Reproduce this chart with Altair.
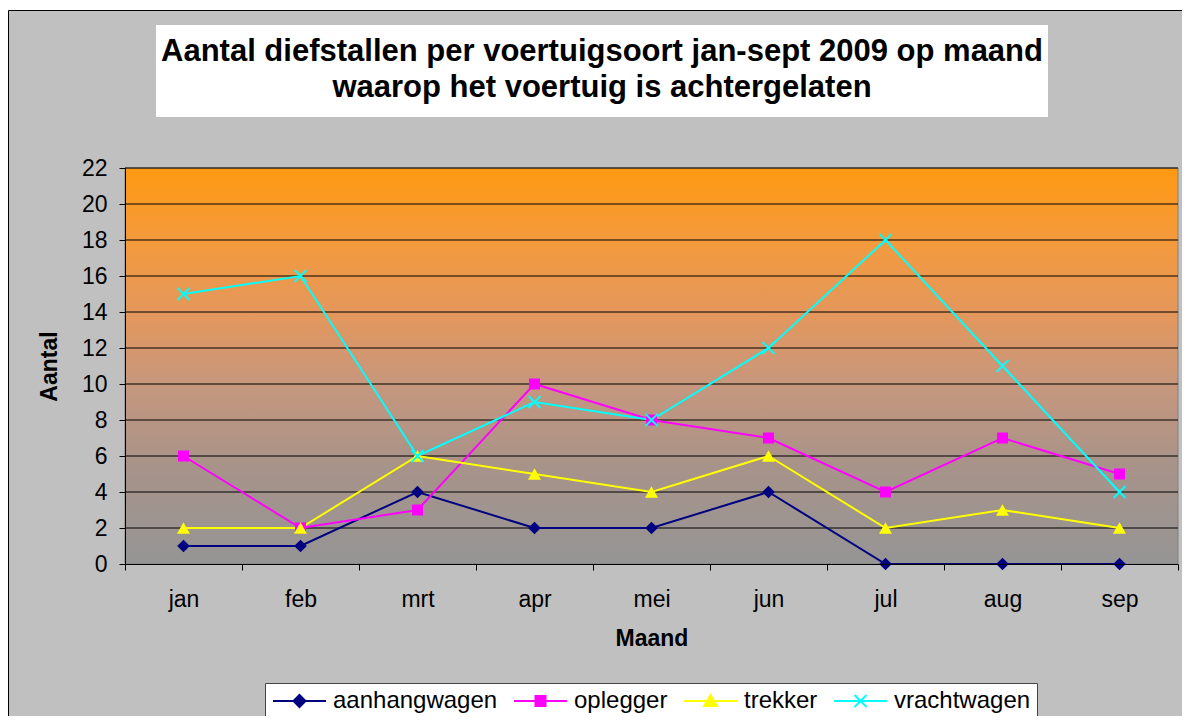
import altair as alt
import pandas as pd

months = ["jan", "feb", "mrt", "apr", "mei", "jun", "jul", "aug", "sep"]
series = ["aanhangwagen", "oplegger", "trekker", "vrachtwagen"]
aanhangwagen = [1, 1, 4, 2, 2, 4, 0, 0, 0]
oplegger = [6, 2, 3, 10, 8, 7, 4, 7, 5]
trekker = [2, 2, 6, 5, 4, 6, 2, 3, 2]
vrachtwagen = [15, 16, 6, 9, 8, 12, 18, 11, 4]
colors = ["#000080", "#ff00ff", "#ffff00", "#00ffff"]
y_ticks = list(range(0, 23, 2))

title_lines = ["Aantal diefstallen per voertuigsoort jan-sept 2009 op maand",
               "waarop het voertuig is achtergelaten"]

rows = []
for name, vals in zip(series, [aanhangwagen, oplegger, trekker, vrachtwagen]):
    for m, v in zip(months, vals):
        rows.append({"maand": m, "serie": name, "aantal": v})
df = pd.DataFrame(rows)
grid_df = pd.DataFrame({"aantal": y_ticks[1:]})

W, H = 1053, 396
FONT = "Liberation Sans"

x_axis = alt.Axis(title="Maand", tickBand="extent", labelAngle=0,
                  labelFontSize=23, labelPadding=18, labelColor="black",
                  titleFontSize=23, titleFontWeight="bold", titlePadding=16,
                  titleColor="black", tickSize=6, tickColor="black",
                  domainColor="black", grid=False, labelFont=FONT,
                  titleFont=FONT, zindex=1)
y_axis = alt.Axis(title="Aantal", values=y_ticks, labelFontSize=23,
                  labelPadding=12, labelColor="black", titleFontSize=23,
                  titleFontWeight="bold", titlePadding=20, titleColor="black",
                  tickSize=6, tickColor="black", domainColor="black",
                  labelOverlap=False, labelFlush=False,
                  grid=False, labelFont=FONT, titleFont=FONT, zindex=1)
y_scale = alt.Scale(domain=[0, 22], nice=False)

x_enc = alt.X("maand:N", sort=months, bandPosition=0.5,
              scale=alt.Scale(type="band", paddingInner=0, paddingOuter=0),
              axis=x_axis)
y_enc = alt.Y("aantal:Q", scale=y_scale, axis=y_axis)
color_scale = alt.Scale(domain=series, range=colors)

base = alt.Chart(df)

one = alt.Data(values=[{"a": 1}])

border = alt.Chart(one).mark_rect(fill="#c0c0c0", stroke="black", strokeWidth=1).encode(
    x=alt.value(-116.5), x2=alt.value(W + 40), y=alt.value(-157.5), y2=alt.value(H + 200))

title_box = alt.Chart(one).mark_rect(fill="white").encode(
    x=alt.value(31), x2=alt.value(923), y=alt.value(-143), y2=alt.value(-51))

title_text = alt.Chart(one).mark_text(
    text=title_lines, font=FONT, fontSize=31, fontWeight="bold", color="black",
    align="center", baseline="middle", lineHeight=36).encode(
    x=alt.value(477), y=alt.value(-116))

bg = alt.Chart(one).mark_rect(
    stroke="#808080", strokeWidth=1,
    color=alt.Gradient(gradient="linear", x1=0, y1=0, x2=0, y2=1,
                       stops=[alt.GradientStop(offset=0, color="#ff9912"),
                              alt.GradientStop(offset=0.2, color="#f39a40"),
                              alt.GradientStop(offset=0.38, color="#e2975e"),
                              alt.GradientStop(offset=0.55, color="#c6977e"),
                              alt.GradientStop(offset=0.75, color="#a89389"),
                              alt.GradientStop(offset=1, color="#959595")])).encode(
    x=alt.value(0), x2=alt.value(W), y=alt.value(0), y2=alt.value(H))

grid = alt.Chart(grid_df).mark_rule(color="black", strokeWidth=1).encode(
    y=alt.Y("aantal:Q", scale=y_scale, axis=y_axis))

line_layers = []
for name, col in zip(series, colors):
    line_layers.append(base.mark_line(strokeWidth=2, color=col).encode(
        x=x_enc, y=y_enc).transform_filter(alt.datum.serie == name))

legend_paths = [
    "M-1,0L4.3,0M1.65,-0.6L2.25,0L1.65,0.6L1.05,0Z",
    "M-1,0L4.3,0M1.15,-0.5L2.15,-0.5L2.15,0.5L1.15,0.5Z",
    "M-1,0L4.3,0M1.65,-0.6L2.3,0.5L1,0.5Z",
    "M-1,0L4.3,0M1.05,-0.6L2.25,0.6M1.05,0.6L2.25,-0.6",
]

# legend-only layer: drawn first, hidden under the chart background
legend_layer = base.mark_point(filled=False, strokeWidth=2, size=400, opacity=1,
                               clip=True).encode(
    x=x_enc, y=y_enc,
    color=alt.Color("serie:N", scale=color_scale, title=None,
                    legend=alt.Legend(orient="none", legendX=140, legendY=515,
                                      direction="horizontal", symbolSize=400,
                                      symbolStrokeWidth=2, symbolOpacity=1,
                                      labelFontSize=24, labelFont=FONT,
                                      labelColor="black", labelOffset=38,
                                      columnPadding=12, padding=6,
                                      fillColor="white", strokeColor="#444444",
                                      labelLimit=400, zindex=1)),
    fill=alt.Fill("serie:N", scale=color_scale, title=None),
    shape=alt.Shape("serie:N", scale=alt.Scale(domain=series, range=legend_paths), title=None),
)

marker_specs = [
    ("aanhangwagen", "diamond", 160, True),
    ("oplegger", "square", 121, True),
    ("trekker", "triangle-up", 170, True),
    ("vrachtwagen", "M-1,-1L1,1M-1,1L1,-1", 144, False),
]
point_layers = []
for name, shape, size, filled in marker_specs:
    col = colors[series.index(name)]
    if filled:
        mk = base.mark_point(shape=shape, size=size, filled=True, opacity=1, color=col)
    else:
        mk = base.mark_point(shape=shape, size=size, filled=False, opacity=1,
                             color=col, strokeWidth=1.8)
    point_layers.append(mk.encode(x=x_enc, y=y_enc).transform_filter(
        alt.datum.serie == name))

chart = alt.layer(legend_layer, border, title_box, title_text, bg, grid, *line_layers,
                  *point_layers).properties(
    width=W, height=H,
    autosize=alt.AutoSizeParams(type="none"),
    padding={"left": 117, "top": 160, "right": 4, "bottom": 152},
).configure(background="white").configure_view(stroke=None)

chart.save("out.html", embed_options={"renderer": "svg", "actions": False})
